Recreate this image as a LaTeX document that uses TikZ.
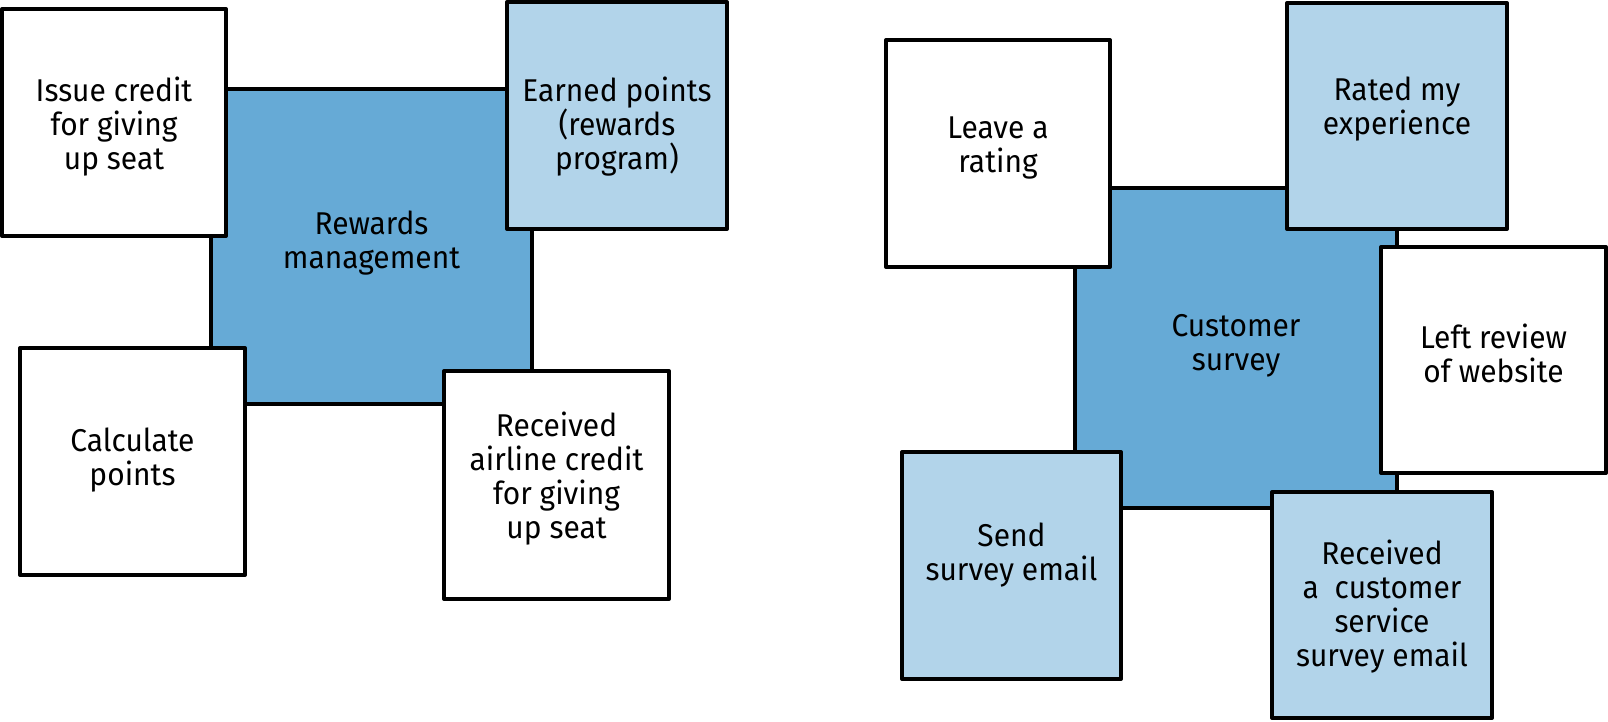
\documentclass[tikz,border=0pt]{standalone}
\usepackage{fontspec}
\setmainfont[FakeStretch=0.95]{Fira Sans}
\definecolor{darkfill}{HTML}{66AAD6}
\definecolor{lightfill}{HTML}{B2D4EA}
\begin{document}
\begin{tikzpicture}[x=1pt,y=-1pt,
  card/.style={draw=black, line width=4pt, rectangle, inner sep=0pt, line join=round},
  core/.style={card, fill=darkfill},
  event/.style={card, fill=lightfill},
  cmd/.style={card, fill=white},
  txt/.style={align=center, font=\fontsize{31.5}{34}\selectfont, inner sep=0pt}]
\useasboundingbox (0,0) rectangle (1608,721);
% left group
\node[core, minimum width=321pt, minimum height=315pt] (rew) at (371.5,246.5) {};
\node[cmd, minimum width=224pt, minimum height=227pt] (iss) at (114,122.5) {};
\node[event, minimum width=220pt, minimum height=227pt] (earn) at (617,115.5) {};
\node[cmd, minimum width=225pt, minimum height=227pt] (calc) at (132.5,461.5) {};
\node[cmd, minimum width=225pt, minimum height=228pt] (rair) at (556.5,485) {};
\node[txt] (trew) at ([yshift=3pt]rew.center) {Rewards\\management};
\node[txt] (tiss) at ([yshift=-4pt]iss.center) {Issue credit\\for giving\\up seat};
\node[txt] (tearn) at ([yshift=-11pt]earn.center) {Earned points\\(rewards\\program)};
\node[txt] (tcalc) at ([yshift=1pt]calc.center) {Calculate\\points};
\node[txt] (trair) at ([yshift=6pt]rair.center) {Received\\airline credit\\for giving\\up seat};
% right group
\node[core, minimum width=322pt, minimum height=320pt] (cust) at (1236,348) {};
\node[cmd, minimum width=224pt, minimum height=227pt] (leave) at (998,153.5) {};
\node[event, minimum width=220pt, minimum height=226pt] (rated) at (1397,116) {};
\node[cmd, minimum width=225pt, minimum height=226pt] (lrev) at (1493.5,360) {};
\node[event, minimum width=219pt, minimum height=227pt] (send) at (1011.5,565.5) {};
\node[event, minimum width=220pt, minimum height=226pt] (rcust) at (1382,605) {};
\node[txt] (tcust) at ([yshift=2pt]cust.center) {Customer\\survey};
\node[txt] (tleave) at ([yshift=6pt]leave.center) {Leave a\\rating};
\node[txt] (trated) at ([yshift=7pt]rated.center) {Rated my\\experience};
\node[txt] (tlrev) at ([yshift=7pt]lrev.center) {Left review\\of website};
\node[txt] (tsend) at ([yshift=10pt]send.center) {Send\\survey email};
\node[txt] (trcust) at ([yshift=-2pt]rcust.center) {Received\\a\ \ customer\\service\\survey email};
\end{tikzpicture}
\end{document}
